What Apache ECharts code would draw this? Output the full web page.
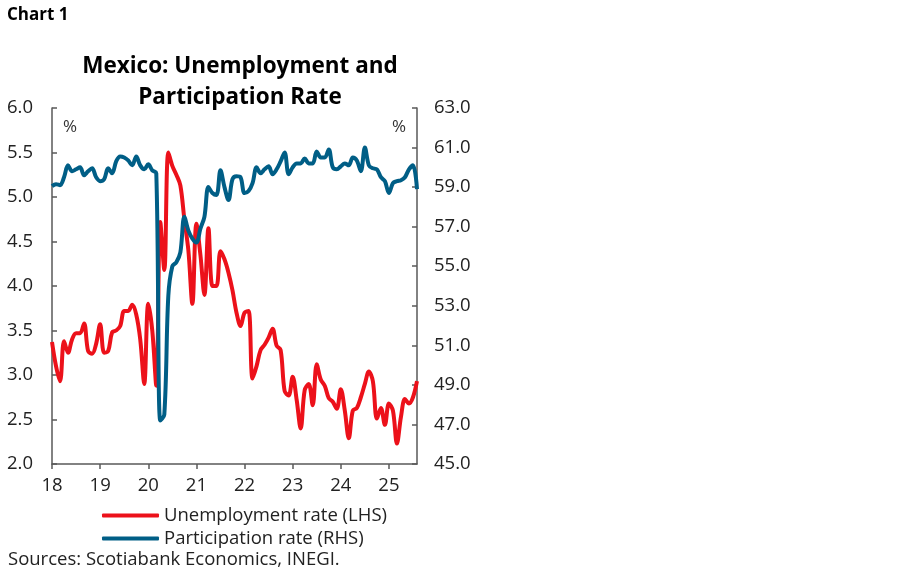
<!DOCTYPE html>
<html>
<head>
<meta charset="utf-8">
<script src="https://cdn.jsdelivr.net/npm/echarts@6/dist/echarts.min.js"></script>
<style>
html,body{margin:0;padding:0;background:#fff;}
#c{width:900px;height:579px;}
</style>
</head>
<body>
<div id="c"></div>
<script>
// Monthly, Jan 2018 .. Aug 2025
var startYear = 2018;
var unemployment = [
 3.37,3.10,2.93,3.38,3.25,3.40,3.47,3.47,3.58,3.27,3.24,3.35,
 3.57,3.25,3.27,3.48,3.50,3.55,3.72,3.72,3.79,3.68,3.40,2.90,
 3.80,3.50,2.88,4.72,4.18,5.50,5.35,5.25,5.13,4.75,4.40,3.80,
 4.70,4.35,3.90,4.65,4.00,4.00,4.39,4.30,4.15,3.95,3.70,3.55,
 3.70,3.72,2.96,3.10,3.28,3.34,3.42,3.52,3.33,3.28,2.82,2.77,
 2.98,2.72,2.40,2.83,2.90,2.66,3.12,2.95,2.88,2.74,2.70,2.62,
 2.84,2.60,2.29,2.60,2.63,2.75,2.90,3.04,2.93,2.51,2.63,2.44,
 2.68,2.60,2.23,2.53,2.73,2.68,2.75,2.93
];
var participation = [
 59.05,59.15,59.10,59.50,60.10,59.80,59.90,60.00,59.60,59.80,59.95,59.50,
 59.30,59.40,59.95,59.70,60.30,60.55,60.50,60.35,60.10,60.55,60.10,59.90,
 60.15,59.85,59.70,47.20,47.50,53.50,55.00,55.20,55.70,57.50,56.80,56.40,
 56.20,56.90,57.50,59.00,58.70,58.60,59.85,59.00,58.35,59.40,59.55,59.50,
 58.70,58.80,59.20,60.00,59.70,59.90,60.05,59.65,59.90,60.30,60.75,59.65,
 60.00,60.20,60.20,60.45,60.20,60.20,60.80,60.50,60.50,60.90,60.00,59.90,
 60.05,60.20,60.10,60.50,60.35,59.80,61.00,60.10,59.95,59.90,59.50,59.30,
 58.70,59.20,59.30,59.35,59.50,59.90,60.10,58.90
];
var months = [];
for (var i = 0; i < unemployment.length; i++) {
  var y = startYear + Math.floor(i / 12);
  var m = (i % 12) + 1;
  months.push(y + '-' + (m < 10 ? '0' + m : m));
}
var seriesNames = ['Unemployment rate (LHS)', 'Participation rate (RHS)'];
var colors = ['#EC111A', '#005E86'];

var FONT = 'Open Sans';
var FS = 18.5;
var AX = '#595959';
var chart = echarts.init(document.getElementById('c'));
chart.setOption({
  animation: false,
  backgroundColor: '#fff',
  grid: {left: 52, right: 483, top: 108, bottom: 115, containLabel: false},
  graphic: [
    {type: 'text', left: 7, top: 7, style: {text: 'Chart 1', fontFamily: FONT, fontWeight: 'bold', fontSize: 17, fill: '#000'}},
    {type: 'text', x: 240, y: 67, style: {text: 'Mexico: Unemployment and', fontFamily: FONT, fontWeight: 'bold', fontSize: 22.5, fill: '#000', textAlign: 'center', textVerticalAlign: 'middle'}},
    {type: 'text', x: 240, y: 98, style: {text: 'Participation Rate', fontFamily: FONT, fontWeight: 'bold', fontSize: 22.5, fill: '#000', textAlign: 'center', textVerticalAlign: 'middle'}},
    {type: 'text', x: 70, y: 127, style: {text: '%', fontFamily: FONT, fontSize: 17, fill: '#333', textAlign: 'center', textVerticalAlign: 'middle'}},
    {type: 'text', x: 399, y: 127, style: {text: '%', fontFamily: FONT, fontSize: 17, fill: '#333', textAlign: 'center', textVerticalAlign: 'middle'}},
    {type: 'text', x: 8, y: 560, style: {text: 'Sources: Scotiabank Economics, INEGI.', fontFamily: FONT, fontSize: FS, fill: '#222', textVerticalAlign: 'middle'}}
  ],
  legend: {
    orient: 'vertical', left: 97, top: 501,
    itemWidth: 57, itemHeight: 4, itemGap: 4,
    icon: 'roundRect',
    textStyle: {fontFamily: FONT, fontSize: FS, color: '#222'},
    data: seriesNames
  },
  xAxis: {
    type: 'category', data: months, boundaryGap: false,
    axisLine: {show: true, lineStyle: {color: AX, width: 1.5}},
    axisTick: {show: true, inside: false, length: 5, lineStyle: {color: AX, width: 1.5},
      interval: function (idx) { return idx % 12 === 0; }},
    axisLabel: {interval: function (idx) { return idx % 12 === 0; }, margin: 12,
      fontFamily: FONT, fontSize: FS, color: '#222',
      formatter: function (v) { return v.slice(2, 4); }},
    splitLine: {show: false}
  },
  yAxis: [
    {type: 'value', min: 2, max: 6, interval: 0.5, position: 'left',
     axisLine: {show: true, lineStyle: {color: AX, width: 1.5}},
     axisTick: {show: true, inside: true, length: 5, lineStyle: {color: AX, width: 1.5}},
     axisLabel: {margin: 19, fontFamily: FONT, fontSize: FS, color: '#222', formatter: function (v) { return v.toFixed(1); }},
     splitLine: {show: false}},
    {type: 'value', min: 45, max: 63, interval: 2, position: 'right',
     axisLine: {show: true, lineStyle: {color: AX, width: 1.5}},
     axisTick: {show: true, inside: true, length: 5, lineStyle: {color: AX, width: 1.5}},
     axisLabel: {margin: 17, fontFamily: FONT, fontSize: FS, color: '#222', formatter: function (v) { return v.toFixed(1); }},
     splitLine: {show: false}}
  ],
  series: [
    {name: seriesNames[0], type: 'line', yAxisIndex: 0, data: unemployment, smooth: 0.35,
     showSymbol: false, lineStyle: {color: colors[0], width: 4}, itemStyle: {color: colors[0]}, z: 2},
    {name: seriesNames[1], type: 'line', yAxisIndex: 1, data: participation, smooth: 0.35,
     showSymbol: false, lineStyle: {color: colors[1], width: 4}, itemStyle: {color: colors[1]}, z: 3}
  ]
});
</script>
</body>
</html>
